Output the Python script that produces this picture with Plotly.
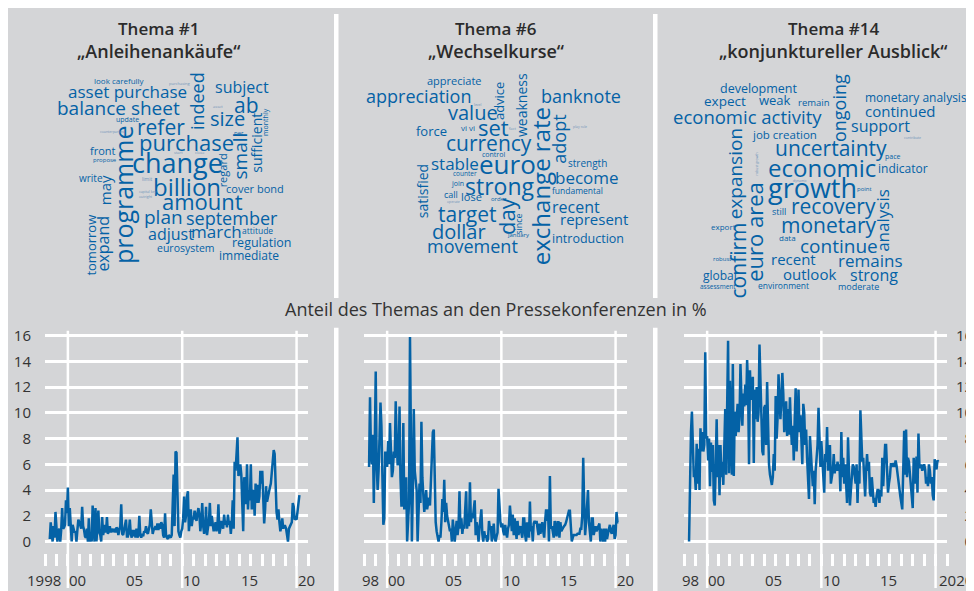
import pandas as pd
import plotly.graph_objects as go

# the page body adds an 8 px margin, so the figure covers the window from (8, 8)
OFF = 8
W, H = 974 - OFF, 591 - OFF

# Anteil des Themas an den Pressekonferenzen in %, monthly from June 1998
topic_1 = [
    0.2, 1.5, 0.6, 0.0, 1.2, 0.3, 2.3,
    0.9, 0.0, 0.8, 1.0, 0.0, 0.9, 2.6, 1.0, 1.1, 1.3, 3.2, 2.2,
    4.2, 1.2, 2.6, 0.6, 0.0, 1.3, 1.0, 0.7, 0.8, 0.0, 0.9, 1.7,
    1.5, 1.3, 1.0, 2.7, 1.2, 0.9, 0.4, 0.3, 1.0, 0.0, 1.8, 0.0,
    0.3, 0.0, 2.8, 1.0, 0.0, 2.6, 0.0, 1.2, 2.4, 0.7, 0.5, 0.0,
    1.9, 0.5, 1.0, 1.3, 0.7, 1.9, 0.6, 0.8, 1.2, 0.7, 1.0, 0.8,
    0.8, 1.0, 0.7, 1.1, 1.0, 0.5, 0.9, 1.2, 2.9, 0.6, 0.5, 0.9,
    1.2, 1.7, 0.4, 0.4, 0.8, 1.7, 0.6, 0.3, 0.9, 0.4, 0.9, 0.3,
    1.0, 0.3, 0.5, 2.0, 0.5, 0.3, 0.6, 0.4, 0.8, 0.7, 1.2, 0.7,
    0.6, 1.0, 1.3, 2.5, 1.0, 0.6, 0.9, 1.0, 1.2, 0.9, 1.4, 0.9,
    1.4, 1.0, 1.5, 1.3, 0.5, 0.3, 2.2, 0.5, 0.3, 0.2, 0.5, 0.4,
    0.3, 0.5, 3.0, 5.2, 1.2, 7.0, 6.9, 3.0, 0.8, 0.5, 0.3, 0.8,
    1.0, 1.8, 3.5, 1.5, 2.0, 3.5, 3.9, 0.8, 1.5, 2.5, 1.2, 1.8,
    1.8, 2.4, 1.9, 1.6, 2.2, 2.6, 2.1, 0.8, 1.5, 3.0, 1.2, 0.6,
    1.0, 2.7, 0.5, 1.2, 1.6, 3.0, 1.2, 2.0, 1.5, 0.8, 1.1, 1.5,
    0.8, 1.3, 2.9, 0.6, 1.0, 1.6, 1.2, 1.0, 2.1, 1.3, 1.6, 1.1,
    2.1, 1.3, 1.6, 0.6, 1.5, 3.2, 1.0, 6.2, 5.5, 6.5, 8.1, 5.1,
    5.3, 6.0, 5.2, 3.0, 0.8, 5.0, 4.0, 2.9, 6.0, 2.5, 4.0, 3.2,
    6.0, 2.5, 4.0, 3.8, 2.0, 4.5, 3.0, 4.4, 3.0, 3.5, 5.5, 4.5,
    5.5, 3.0, 1.4, 2.5, 4.3, 3.1, 3.5, 4.1, 4.2, 4.5, 5.2, 6.0,
    7.1, 6.8, 3.5, 2.3, 1.7, 2.5, 1.5, 0.8, 1.2, 1.8, 1.0, 1.2,
    1.2, 1.0, 0.5, 0.0, 1.0, 1.2, 1.3, 1.5, 3.0, 2.7, 1.7, 1.8,
    1.7, 2.5, 3.0, 3.6,
]

topic_6 = [
    5.8, 11.2, 7.0, 6.0, 8.3, 3.0, 7.5,
    13.2, 6.0, 4.0, 5.5, 7.5, 10.8, 9.0, 6.0, 1.3, 1.8, 7.0, 6.5,
    5.8, 7.8, 6.0, 9.2, 6.0, 5.0, 5.5, 7.0, 6.5, 10.9, 8.0, 6.0,
    6.0, 10.5, 5.0, 2.8, 2.8, 9.2, 2.5, 4.0, 5.0, 0.0, 1.5, 3.0,
    15.9, 5.0, 0.0, 4.0, 10.3, 5.5, 4.5, 4.0, 0.0, 2.0, 4.5, 3.0,
    9.3, 5.0, 3.0, 2.3, 3.0, 4.0, 2.5, 3.0, 3.4, 2.8, 5.0, 5.5,
    8.5, 8.7, 4.0, 1.5, 0.8, 0.3, 0.0, 0.5, 0.3, 1.5, 3.3, 2.3,
    4.8, 1.5, 3.0, 2.0, 1.5, 1.2, 0.8, 1.0, 0.0, 1.7, 0.5, 0.0,
    0.8, 1.6, 0.5, 1.2, 3.9, 1.0, 1.8, 0.6, 1.3, 1.0, 2.5, 3.9,
    1.0, 2.0, 1.2, 4.6, 1.5, 2.2, 1.8, 2.5, 3.2, 0.5, 1.5, 1.0,
    0.0, 1.0, 2.2, 2.5, 0.6, 0.0, 0.8, 0.3, 0.5, 0.0, 0.2, 1.6,
    1.0, 1.2, 0.0, 0.5, 1.4, 0.3, 0.0, 0.4, 0.7, 4.1, 2.0, 1.5,
    1.1, 1.4, 0.8, 0.5, 1.3, 0.9, 0.3, 1.0, 1.3, 2.8, 1.5, 0.8,
    2.1, 0.5, 1.8, 0.8, 0.2, 1.6, 0.5, 1.0, 1.2, 0.7, 0.3, 1.8,
    1.8, 0.5, 0.0, 1.5, 0.8, 0.3, 3.1, 0.8, 1.2, 0.0, 1.4, 1.6,
    1.4, 1.6, 1.0, 0.5, 1.4, 0.6, 1.0, 1.5, 0.8, 0.3, 1.6, 2.5,
    1.6, 2.5, 0.0, 5.1, 1.0, 1.2, 0.8, 0.3, 1.6, 0.8, 0.4, 1.5,
    1.5, 0.3, 1.5, 0.8, 1.0, 1.1, 1.2, 1.3, 1.5, 1.8, 2.2, 2.4,
    2.4, 1.0, 0.0, 0.3, 0.5, 0.5, 0.5, 0.5, 0.6, 0.6, 0.6, 1.0,
    1.0, 2.0, 6.5, 3.0, 0.5, 1.5, 3.0, 4.0, 1.5, 0.8, 0.0, 1.8,
    1.8, 0.5, 0.8, 1.2, 0.8, 1.0, 1.2, 1.4, 0.0, 1.0, 0.6, 0.0,
    1.0, 0.0, 1.0, 0.2, 0.6, 1.1, 1.3, 0.8, 0.6, 1.0, 1.3, 0.2,
    0.5, 2.3, 1.5, 1.5,
]

topic_14 = [
    0.0, 5.0, 8.5, 10.1, 6.0, 5.0, 5.5,
    4.0, 7.6, 4.5, 7.2, 4.0, 8.8, 7.0, 8.5, 7.0, 7.5, 14.7, 8.0,
    8.2, 6.3, 8.0, 4.3, 7.7, 5.4, 7.5, 3.2, 2.8, 6.0, 9.5, 5.0,
    7.5, 3.6, 7.5, 5.0, 6.2, 4.4, 8.8, 10.3, 5.2, 9.0, 15.6, 5.3,
    12.5, 8.0, 5.2, 13.8, 5.1, 10.1, 8.2, 9.5, 10.7, 8.5, 9.5, 13.8,
    12.0, 9.0, 11.5, 10.5, 12.2, 10.6, 14.1, 12.0, 6.0, 13.3, 11.0, 12.0,
    12.8, 6.1, 11.8, 9.5, 12.0, 9.3, 10.0, 15.3, 12.2, 9.8, 7.0, 6.7,
    10.4, 10.6, 7.5, 12.4, 8.0, 6.0, 5.2, 4.7, 4.4, 5.0, 6.8, 5.5,
    11.3, 8.0, 9.6, 13.0, 10.5, 9.5, 11.0, 13.1, 11.5, 8.5, 9.7, 10.9,
    8.2, 10.3, 8.3, 11.2, 9.0, 7.5, 9.0, 6.3, 9.5, 11.9, 7.0, 10.0,
    11.8, 8.5, 9.8, 8.0, 6.0, 10.7, 10.0, 7.5, 8.7, 6.5, 5.0, 3.3,
    8.2, 6.5, 5.5, 4.3, 5.5, 2.9, 5.5, 6.5, 7.5, 10.4, 7.0, 5.8,
    7.8, 6.5, 5.6, 3.8, 6.8, 6.2, 8.9, 5.5, 6.5, 7.5, 4.5, 5.0,
    5.5, 6.8, 5.3, 6.0, 5.5, 6.2, 5.5, 6.0, 3.9, 8.5, 5.0, 6.5,
    4.5, 6.0, 4.2, 3.0, 8.1, 4.0, 2.8, 4.0, 5.5, 6.0, 5.8, 5.0,
    4.5, 6.0, 3.0, 5.5, 4.5, 10.2, 7.0, 6.2, 6.5, 5.0, 3.5, 5.5,
    6.8, 5.5, 6.2, 3.8, 3.5, 5.0, 3.5, 3.0, 3.4, 2.7, 3.5, 4.0,
    4.0, 3.0, 4.0, 3.5, 6.5, 4.3, 6.0, 7.5, 7.5, 5.5, 3.8, 4.5,
    5.0, 6.0, 6.0, 5.8, 6.1, 5.8, 6.3, 5.9, 5.2, 4.5, 4.0, 3.5,
    3.0, 2.5, 5.5, 8.6, 5.2, 8.7, 5.0, 6.5, 6.2, 5.0, 4.0, 3.5,
    2.6, 6.5, 5.5, 4.5, 6.6, 3.8, 8.4, 6.0, 5.7, 6.0, 5.5, 5.8,
    6.0, 5.6, 4.5, 5.0, 4.3, 6.0, 5.5, 4.5, 5.0, 3.6, 3.2, 6.4,
    6.1, 5.6, 6.3, 6.2,
]

series = [topic_1, topic_6, topic_14]
titles = [
    ("Thema #1", "\u201eAnleihenank\u00e4ufe\u201c"),
    ("Thema #6", "\u201eWechselkurse\u201c"),
    ("Thema #14", "\u201ekonjunktureller Ausblick\u201c"),
]
y_ticks = [0, 2, 4, 6, 8, 10, 12, 14, 16]
# right-hand labels are right-aligned: pad one-digit values with a figure space
y_ticktext_right = [("\u2007" + str(v)) if v < 10 else str(v) for v in y_ticks]
year_ticks = list(range(1998, 2022))
x_range = [1998, 2021]
x_label_text = [
    ["1998", "00", "05", "10", "15", "20"],
    ["98", "00", "05", "10", "15", "20"],
    ["98", "00", "05", "10", "15", "2020"],
]
x_label_pos = [
    [1997.9, 2000.85, 2005.85, 2010.85, 2015.85, 2020.9],
    [1998.55, 2000.85, 2005.85, 2010.85, 2015.85, 2020.9],
    [1998.55, 2000.85, 2005.85, 2010.85, 2015.85, 2021.8],
]

# word clouds: word, centre x/y (window px), font size, vertical
cloud_1 = [
    ("look carefully", 119, 80, 8, 0), ("asset purchase", 127, 91, 17, 0),
    ("subject", 242, 87, 16, 0), ("balance sheet", 118, 108, 19, 0),
    ("indeed", 201, 96, 18, 1), ("ab", 246, 105, 21, 0), ("size", 227, 119, 20, 0),
    ("refer", 161, 127, 21, 0), ("sufficient", 261, 138, 14, 1), ("monthly", 270, 117, 7, 1),
    ("update", 127, 120, 7, 0), ("programme", 127, 191, 25, 1), ("purchase", 186, 142, 22, 0),
    ("small", 244, 152, 19, 1), ("per", 239, 133, 6, 0), ("front", 103, 151, 11, 0),
    ("change", 177, 163, 27, 0), ("regard", 226, 166, 11, 1), ("propose", 105, 161, 6, 0),
    ("billion", 187, 187, 24, 0), ("may", 109, 186, 15, 1), ("write", 91, 179, 10, 0),
    ("cover bond", 255, 189, 11, 0), ("limit", 147, 180, 5, 0), ("amount", 202, 202, 22, 0),
    ("plan", 163, 218, 19, 0), ("september", 232, 219, 18, 0), ("tomorrow", 95, 242, 13, 1),
    ("expand", 107, 240, 16, 1), ("adjust", 171, 235, 16, 0), ("march", 216, 233, 17, 0),
    ("attitude", 257, 232, 8.5, 0), ("regulation", 261, 244, 12.5, 0),
    ("eurosystem", 186, 249, 10.5, 0), ("immediate", 249, 257, 12, 0),
    ("purchasing", 179, 83, 4, 0), ("asset", 218, 106, 4, 0), ("counterparties", 112, 132, 3.5, 0),
    ("start", 178, 153, 4, 0), ("close", 200, 153, 4, 0), ("capital key", 147, 192, 3.5, 0),
    ("outright", 146, 197, 3.5, 0),
]
cloud_6 = [
    ("appreciate", 454, 80, 11, 0), ("appreciation", 419, 96, 18, 0), ("advice", 503, 96, 13, 1),
    ("weakness", 525, 100, 14, 1), ("banknote", 581, 96, 18, 0), ("value", 473, 113, 20, 0),
    ("exchange rate", 544, 182, 24, 1), ("adopt", 563, 135, 18, 1), ("force", 431, 131, 13, 0),
    ("vi vi", 468, 128, 8, 0), ("set", 493, 127, 22, 0), ("currency", 489, 143, 21, 0),
    ("stable", 455, 164, 17, 0), ("satisfied", 426, 187, 14, 1), ("euro", 507, 165, 26, 0),
    ("strength", 587, 164, 10, 0), ("control", 494, 155, 7, 0), ("become", 587, 178, 17, 0),
    ("counter", 465, 174, 6.5, 0), ("strong", 500, 187, 23, 0), ("join", 457, 184, 7, 0),
    ("fundamental", 577, 191, 8.5, 0), ("call", 451, 195, 9, 0), ("lose", 471, 197, 11, 0),
    ("order", 499, 200, 6, 0), ("day", 510, 212, 22, 1), ("target", 467, 215, 21, 0),
    ("recent", 576, 208, 16, 0), ("represent", 594, 220, 15, 0), ("since", 523, 221, 9, 1),
    ("dollar", 459, 233, 20, 0), ("january", 518, 236, 6, 0), ("introduction", 588, 240, 12.5, 0),
    ("movement", 472, 247, 18, 0), ("fact", 512, 129, 4, 0), ("play role", 580, 127, 3.5, 0),
    ("operate", 453, 202, 3.5, 0), ("level", 478, 104, 3.5, 0),
]
cloud_14 = [
    ("development", 759, 88, 12.5, 0), ("ongoing", 843, 103, 18, 1), ("expect", 725, 101, 13.5, 0),
    ("weak", 775, 100, 13, 0), ("remain", 814, 102, 9.5, 0), ("monetary analysis", 916, 97, 12, 0),
    ("economic activity", 747, 117, 18.5, 0), ("continued", 900, 111, 15, 0),
    ("support", 880, 126, 16, 0), ("job creation", 784, 135, 11.5, 0), ("expansion", 739, 170, 19, 1),
    ("uncertainty", 831, 148, 21, 0), ("pace", 893, 157, 7, 0), ("indicator", 903, 169, 12, 0),
    ("economic", 822, 168, 24, 0), ("euro area", 758, 228, 22, 1), ("growth", 812, 188, 27, 0),
    ("point", 864, 190, 6, 0), ("analysis", 887, 217, 17, 1), ("confirm", 742, 257, 21, 1),
    ("still", 779, 213, 9, 0), ("recovery", 833, 207, 21, 0), ("export", 723, 228, 8, 0),
    ("monetary", 828, 226, 21, 0), ("data", 787, 239, 8, 0), ("continue", 839, 247, 19, 0),
    ("recent", 793, 261, 15, 0), ("remains", 870, 262, 17, 0), ("robust", 722, 261, 6, 0),
    ("global", 720, 277, 12, 0), ("outlook", 809, 276, 15, 0), ("strong", 874, 277, 16, 0),
    ("assessment", 718, 288, 6.5, 0), ("environment", 783, 287, 8.5, 0), ("moderate", 858, 288, 9, 0),
    ("contribute", 912, 138, 3.5, 0), ("dynamic", 800, 181, 3.5, 0), ("robust growth", 760, 160, 3.5, 1),
]

BG = "#d4d5d7"
BLUE = "#0462a6"
TEXT = "#333333"
FONT = "Open Sans"


def px(x):
    return (x - OFF) / W


def py(y):
    return 1 - (y - OFF) / H


def text_note(txt, cx, cy, size, color, vertical=False, weight=None, **kw):
    # plotly sets glyphs a few px below (text-wise) the box centre; compensate
    if vertical:
        cx -= 4
    else:
        cy -= 5
    font = dict(size=size, color=color, family=FONT)
    if weight:
        font["weight"] = weight
    note = dict(text=txt, x=px(cx), y=py(cy), xref="paper", yref="paper",
                showarrow=False, xanchor="center", yanchor="middle",
                textangle=-90 if vertical else 0, borderpad=0, font=font)
    note.update(kw)
    return note


fig = go.Figure()

# time-series plots: left/right edge and top/bottom (window px)
panels = [(45, 308), (364.3, 627), (684.3, 947)]
y_top, y_bot = 328, 553

annotations = []
shapes = []

for i, (vals, (x0, x1)) in enumerate(zip(series, panels), start=1):
    dates = pd.date_range("1998-06-01", periods=len(vals), freq="MS")
    years = dates.year + (dates.month - 1) / 12
    sfx = "" if i == 1 else str(i)
    fig.add_trace(
        go.Scatter(
            x=years, y=vals, mode="lines",
            line=dict(color=BLUE, width=2.5),
            xaxis=f"x{sfx}", yaxis=f"y{sfx}",
            showlegend=False, hoverinfo="x+y",
        )
    )
    fig.layout[f"xaxis{sfx}"] = dict(
        domain=[px(x0), px(x1)], range=x_range, anchor=f"y{sfx}",
        showgrid=False, zeroline=False, showline=False,
        tickvals=year_ticks, ticks="outside", ticklen=12, tickwidth=2.5,
        tickcolor="white", showticklabels=False, fixedrange=True,
    )
    fig.layout[f"yaxis{sfx}"] = dict(
        domain=[py(y_bot), py(y_top)], range=[-0.92, 16.38], anchor=f"x{sfx}",
        side="right" if i == 3 else "left",
        tickvals=y_ticks,
        ticktext=y_ticktext_right if i == 3 else [str(v) for v in y_ticks],
        showticklabels=i != 2,
        ticks="outside", ticklen=10 if i == 1 else 5, tickcolor="rgba(0,0,0,0)",
        tickfont=dict(size=15, color=TEXT, family=FONT),
        showgrid=True, gridcolor="white", gridwidth=2.5,
        zeroline=False, showline=False, fixedrange=True,
    )
    for yr in (2000, 2010, 2020):
        shapes.append(
            dict(type="line", xref=f"x{sfx}", yref="paper", x0=yr, x1=yr,
                 y0=py(588), y1=py(y_top), line=dict(color="white", width=2.5),
                 layer="below")
        )
    # year labels sit just right of the year mark; placed on the axis domain
    span = x_range[1] - x_range[0]
    for lbl, pos in zip(x_label_text[i - 1], x_label_pos[i - 1]):
        note = text_note(lbl, 0, 585, 15, TEXT)
        note.update(x=(pos - x_range[0]) / span, xref=f"x{sfx} domain")
        annotations.append(note)

# white separators between the three columns (gap for the common title)
for sx0, sx1 in ((334, 338.5), (653, 657.5)):
    for sy0, sy1 in ((OFF, 295), (325, 591)):
        shapes.append(
            dict(type="rect", xref="paper", yref="paper", x0=px(sx0), x1=px(sx1),
                 y0=py(sy1), y1=py(sy0), fillcolor="white", line_width=0, layer="below")
        )

# word cloud titles
for (line1, line2), cx in zip(titles, (158, 496, 833)):
    annotations.append(text_note(line1, cx, 27.5, 17, "#2b2b2b", weight=600))
    annotations.append(text_note(line2, cx, 50, 18, "#2b2b2b", weight=600))

# word clouds
for cloud in (cloud_1, cloud_6, cloud_14):
    for word, cx, cy, size, vertical in cloud:
        color = BLUE if size >= 6 else "#6f93b8"
        annotations.append(text_note(word, cx, cy, size, color, vertical=bool(vertical)))

annotations.append(
    text_note("Anteil des Themas an den Pressekonferenzen in %", 495.5, 311, 18, TEXT)
)

fig.update_layout(
    width=W, height=H,
    margin=dict(l=0, r=0, t=0, b=0),
    paper_bgcolor=BG, plot_bgcolor="rgba(0,0,0,0)",
    font=dict(family=FONT, color=TEXT),
    showlegend=False,
    shapes=shapes, annotations=annotations,
)

fig.write_html("out.html", config={"displayModeBar": False})
